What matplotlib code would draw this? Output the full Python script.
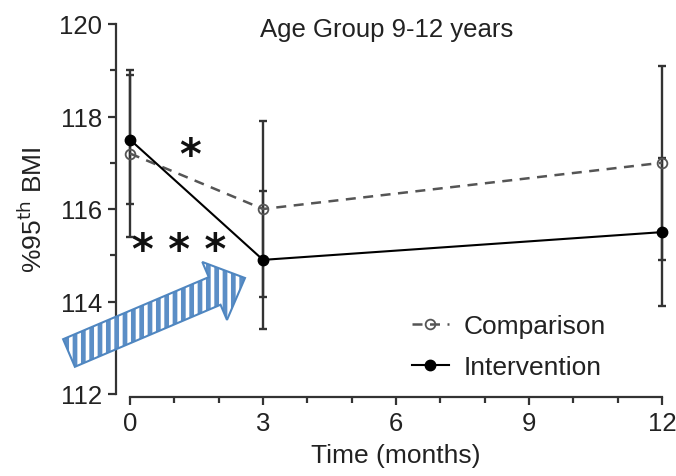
import matplotlib
matplotlib.use("Agg")
import matplotlib.pyplot as plt
from matplotlib.patches import FancyArrow
from matplotlib.transforms import IdentityTransform
from matplotlib.ticker import MultipleLocator

plt.rcParams['font.family'] = ['Liberation Sans', 'DejaVu Sans']
plt.rcParams['hatch.linewidth'] = 2.6

# data
months = [0, 3, 12]
comparison = [117.2, 116.0, 117.0]
comparison_err = [1.8, 1.9, 2.1]
intervention = [117.5, 114.9, 115.5]
intervention_err = [1.4, 1.5, 1.6]
xticks = [0, 3, 6, 9, 12]
yticks = [112, 114, 116, 118, 120]

txt = '#222222'
fig = plt.figure(figsize=(6.76, 4.77), dpi=100)
ax = fig.add_axes([130 / 676, 82 / 477, 532 / 676, 370 / 477])

# error bars first, no legend entries
err_kw = dict(fmt='none', ecolor='#333333', elinewidth=1.7, capsize=3,
              capthick=1.7, clip_on=False)
ax.errorbar(months, comparison, yerr=comparison_err, zorder=2, **err_kw)
ax.errorbar(months, intervention, yerr=intervention_err, zorder=2, **err_kw)

# Comparison: dashed grey, open circles
ax.plot(months, comparison, color='#555555', ls=(0, (4, 3)), lw=1.8,
        marker='o', ms=7, mfc='none', mec='#555555', mew=1.3,
        clip_on=False, label='Comparison', zorder=3)
# Intervention: solid black, filled circles
ax.plot(months, intervention, color='black', ls='-', lw=1.5,
        marker='o', ms=7.5, mfc='black', mec='black',
        clip_on=False, label='Intervention', zorder=4)

ax.set_xlim(0, 12)
ax.set_ylim(112, 120)
ax.set_xticks(xticks)
ax.set_yticks(yticks)
ax.xaxis.set_minor_locator(MultipleLocator(1))
ax.yaxis.set_minor_locator(MultipleLocator(1))

for side in ['top', 'right']:
    ax.spines[side].set_visible(False)
ax.spines['left'].set_position(('outward', 10))
ax.spines['bottom'].set_position(('outward', 2))
for side in ['left', 'bottom']:
    ax.spines[side].set_linewidth(1.6)
    ax.spines[side].set_color('#333333')
ax.tick_params(which='major', length=6, width=1.6, color='#333333',
               labelsize=18.5, labelcolor=txt, pad=4)
ax.tick_params(which='minor', length=4, width=1.6, color='#333333')

ax.set_xlabel('Time (months)', fontsize=19, color=txt, labelpad=6)
ax.set_ylabel('%95$^{\\mathrm{th}}$ BMI', fontsize=19, color=txt, labelpad=9)

ax.text(0.483, 0.986, 'Age Group 9-12 years', transform=ax.transAxes,
        ha='center', va='center', fontsize=18.5, color=txt)

# significance marks
star_kw = dict(ha='center', va='center', fontsize=30, color='#111111',
               family='DejaVu Sans', fontweight='bold')
ax.text(1.35, 117.15, '*', **star_kw)
ax.text(1.1, 115.1, '* * *', **star_kw)

leg = ax.legend(loc='upper left', bbox_to_anchor=(0.53, 0.216), frameon=False,
                fontsize=19, handlelength=1.4, handletextpad=0.55,
                labelspacing=0.65, borderpad=0, borderaxespad=0)
for t in leg.get_texts():
    t.set_color(txt)

# blue striped arrow (pixel coordinates)
tail = (69, 477 - 354)
tip = (245, 477 - 279)
arrow_kw = dict(width=30, head_width=63, head_length=33, length_includes_head=True,
                transform=IdentityTransform())
fill = FancyArrow(tail[0], tail[1], tip[0] - tail[0], tip[1] - tail[1],
                  facecolor='#5b8ec6', edgecolor='white', lw=0, hatch='||', **arrow_kw)
edge = FancyArrow(tail[0], tail[1], tip[0] - tail[0], tip[1] - tail[1],
                  fill=False, edgecolor='#4f86c0', lw=1.5, **arrow_kw)
fig.add_artist(fill)
fig.add_artist(edge)

fig.savefig('out.png', dpi=100)
